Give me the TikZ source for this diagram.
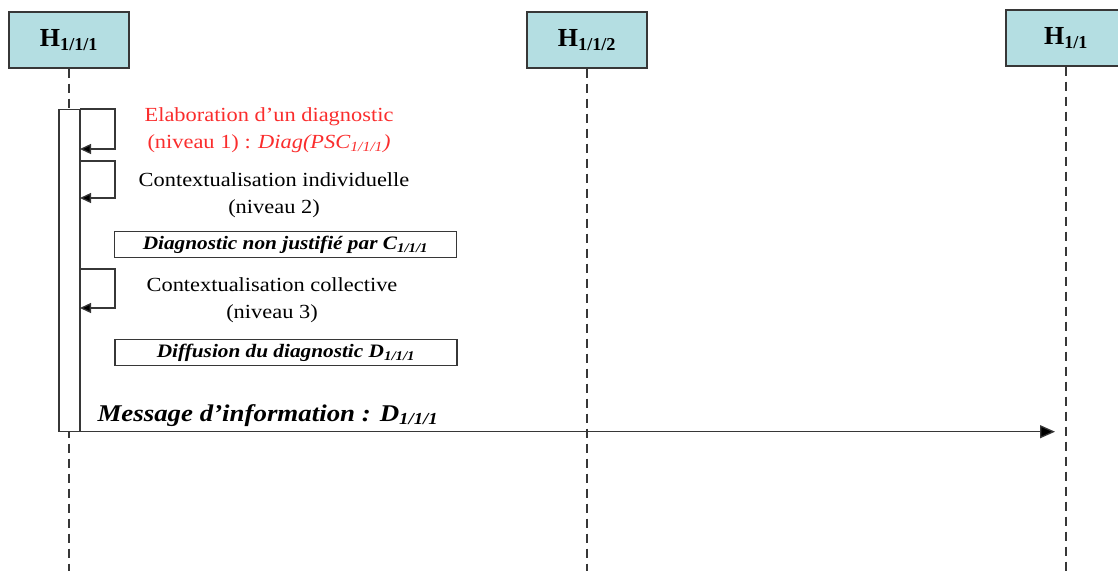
\documentclass[tikz,border=0pt]{standalone}
\usepackage{fontspec}
\setmainfont{Liberation Serif}
\newfontfamily\wideserif[FakeStretch=1.12,Ligatures=TeX]{Liberation Serif}
\usetikzlibrary{arrows.meta}
\definecolor{headfill}{RGB}{180,222,226}
\definecolor{diagred}{RGB}{250,45,45}
\definecolor{linegray}{RGB}{55,55,55}
\tikzset{
  head/.style={draw=linegray,line width=1.4pt,fill=headfill,minimum width=120pt,minimum height=56pt,
    font=\fontsize{26}{30}\selectfont\bfseries},
  lifeline/.style={draw=linegray,line width=1.4pt,dash pattern=on 9pt off 6pt},
  note/.style={draw=linegray,line width=1.2pt,minimum width=342pt,minimum height=26pt,inner sep=0pt,
    font=\wideserif\fontsize{19}{22}\selectfont\bfseries\itshape},
  txt/.style={align=center,font=\wideserif\fontsize{20}{27}\selectfont},
  msgarrow/.style={draw=linegray,line width=1.3pt,-{Triangle[length=11pt,width=10pt,fill=black]}}
}
\begin{document}
\begin{tikzpicture}[x=1pt,y=-1pt]
\useasboundingbox (0,0) rectangle (1118,571);
% participants
\node[head] (h111) at (69,40) {H\textsubscript{1/1/1}};
\node[head] (h112) at (587,40) {H\textsubscript{1/1/2}};
\node[head] (h11) at (1066,38) {H\textsubscript{1/1}};
\foreach \n in {h111,h112,h11}{
\draw[lifeline] (\n.south) -- (\n.south |- 0,571);
}
% activation
\node[draw=linegray,line width=1.2pt,fill=white,minimum width=21pt,minimum height=322pt,inner sep=0pt,anchor=north] (act) at (69.5,108.5) {};
% self messages
\foreach \t/\b [count=\i] in {109/149,161/198,269/308}{
\coordinate (s\i) at (80,\t);
\coordinate (e\i) at (80,\b);
\draw[msgarrow] (s\i) -- ++(35,0) |- (e\i);
}
\node[txt,text=diagred] (t1) at (269,130) {Elaboration d'un diagnostic\\(niveau 1) : \textit{Diag(PSC\textsubscript{1/1/1})}};
\node[txt] (t2) at (274,195) {Contextualisation individuelle\\(niveau 2)};
\node[note] (n1) at (285.5,244.5) {Diagnostic non justifié par C\textsubscript{1/1/1}};
\node[txt] (t3) at (272,300) {Contextualisation collective\\(niveau 3)};
\node[note] (n2) at (286,352.5) {Diffusion du diagnostic D\textsubscript{1/1/1}};
% information message
\draw[msgarrow,-{Triangle[length=15pt,width=13pt,fill=black]}] (act.south west) -- (act.south west -| h11.south) [shorten >=11pt];
\node[anchor=base west,font=\wideserif\fontsize{24}{28}\selectfont\bfseries\itshape] (msg) at (94,421) {Message d'information : D\textsubscript{1/1/1}};
\end{tikzpicture}
\end{document}
